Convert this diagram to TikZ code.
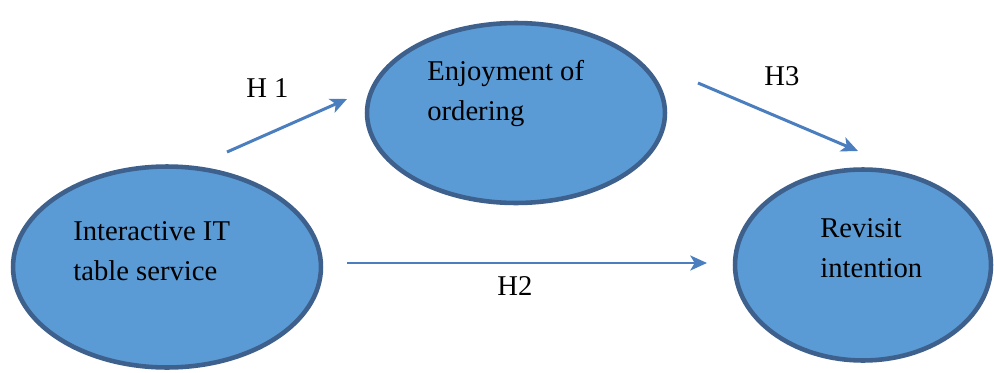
\documentclass[tikz,border=0pt]{standalone}
\usepackage{fontspec}
\setmainfont{Liberation Serif}
\usetikzlibrary{arrows.meta,shapes.geometric}
\definecolor{OvalFill}{RGB}{91,155,213}
\definecolor{OvalLine}{RGB}{62,96,140}
\definecolor{ArrowClr}{RGB}{74,126,190}

\begin{document}
\begin{tikzpicture}[x=0.02cm,y=-0.02cm,
  oval/.style={ellipse,draw=OvalLine,fill=OvalFill,line width=2.6pt,inner sep=0pt},
  lbl/.style={anchor=base west,align=left,inner sep=0pt,font=\fontsize{16.3}{22.3}\selectfont},
  hyp/.style={draw=ArrowClr,line width=1.7pt,-{Stealth[length=9.5pt,width=8.5pt,inset=2.5pt]}}]
\useasboundingbox (0,0) rectangle (994,372);

% constructs
\node[oval,minimum width=6.16cm,minimum height=4.02cm] (its) at (167,267) {};
\node[oval,minimum width=5.96cm,minimum height=3.6cm] (enj) at (516,113) {};
\node[oval,minimum width=5.12cm,minimum height=3.82cm] (rev) at (863,265) {};

\node[lbl] (itsT) at (73,280) {Interactive IT\\table service};
\node[lbl] (enjT) at (427,120) {Enjoyment of\\ordering};
\node[lbl] (revT) at (820,277) {Revisit\\intention};

% hypotheses
\coordinate (h1s) at (227,152);
\coordinate (h1e) at (347,99);
\coordinate (h2s) at (347,263);
\coordinate (h2e) at (707,263);
\coordinate (h3s) at (698,83);
\coordinate (h3e) at (858,151);

\draw[hyp] (h1s) -- (h1e);
\draw[hyp] (h2s) -- (h2e);
\draw[hyp] (h3s) -- (h3e);

\node[lbl] (h1) at (246,97) {H 1};
\node[lbl] (h2) at (497,295) {H2};
\node[lbl] (h3) at (764,85) {H3};

\end{tikzpicture}
\end{document}
